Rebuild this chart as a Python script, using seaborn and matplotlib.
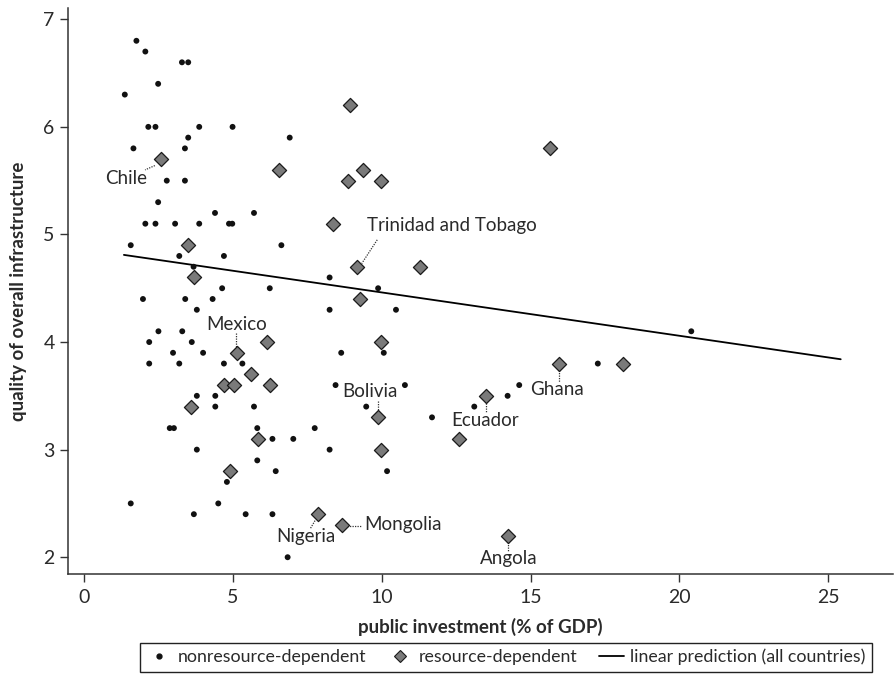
import matplotlib
matplotlib.use('Agg')
import matplotlib.pyplot as plt
from matplotlib.lines import Line2D
import numpy as np
import pandas as pd
import seaborn as sns

# nonresource-dependent countries
nonres_x = [1.76, 2.06, 3.29, 3.50, 2.49, 1.37,
            2.16, 2.40, 3.87, 4.99, 3.50, 6.91, 1.66, 3.39, 2.78, 3.39, 2.49,
            4.40, 5.71, 2.06, 2.40, 3.06, 3.87, 4.87, 4.98, 1.57, 6.63,
            3.20, 4.70, 3.68, 8.25, 4.64, 6.24, 9.88, 1.98, 3.40, 4.32,
            3.79, 8.25, 10.48, 2.50, 3.30, 20.40, 2.19, 3.62,
            2.99, 4.00, 8.64, 10.07, 2.19, 3.20, 4.70, 5.32, 17.26,
            8.45, 10.78, 14.62, 3.79, 4.41, 14.23, 4.41, 5.71, 9.48, 13.11,
            11.69, 2.88, 3.02, 5.82, 7.75, 6.33, 7.03, 3.79, 8.25, 5.82,
            6.44, 10.18, 4.80, 1.57, 4.51, 3.69, 5.43, 6.33, 6.84]
nonres_y = [6.8, 6.7, 6.6, 6.6, 6.4, 6.3,
            6.0, 6.0, 6.0, 6.0, 5.9, 5.9, 5.8, 5.8, 5.5, 5.5, 5.3,
            5.2, 5.2, 5.1, 5.1, 5.1, 5.1, 5.1, 5.1, 4.9, 4.9,
            4.8, 4.8, 4.7, 4.6, 4.5, 4.5, 4.5, 4.4, 4.4, 4.4,
            4.3, 4.3, 4.3, 4.1, 4.1, 4.1, 4.0, 4.0,
            3.9, 3.9, 3.9, 3.9, 3.8, 3.8, 3.8, 3.8, 3.8,
            3.6, 3.6, 3.6, 3.5, 3.5, 3.5, 3.4, 3.4, 3.4, 3.4,
            3.3, 3.2, 3.2, 3.2, 3.2, 3.1, 3.1, 3.0, 3.0, 2.9,
            2.8, 2.8, 2.7, 2.5, 2.5, 2.4, 2.4, 2.4, 2.0]

# resource-dependent countries
res_x = [2.59, 6.55, 8.95, 9.36, 8.87, 9.98, 8.36, 3.50, 3.71, 9.17, 11.29,
         9.27, 6.14, 9.98, 5.13, 5.61, 4.71, 5.04, 6.24, 3.60, 9.89, 5.83,
         9.98, 4.91, 7.86, 8.66, 13.50, 12.61, 15.64, 15.96, 18.10, 14.23]
res_y = [5.7, 5.6, 6.2, 5.6, 5.5, 5.5, 5.1, 4.9, 4.6, 4.7, 4.7,
         4.4, 4.0, 4.0, 3.9, 3.7, 3.6, 3.6, 3.6, 3.4, 3.3, 3.1,
         3.0, 2.8, 2.4, 2.3, 3.5, 3.1, 5.8, 3.8, 3.8, 2.2]

# linear prediction (all countries)
pred_x = [1.34, 25.42]
pred_y = [4.81, 3.84]

# labelled countries: name, text x, text y, alignment, leader start, leader end
labels = [
    ("Chile", 1.41, 5.52, 'center', (2.38, 5.64), (2.05, 5.60)),
    ("Mexico", 5.11, 4.16, 'center', (5.12, 4.08), (5.12, 3.94)),
    ("Trinidad and Tobago", 9.50, 5.08, 'left', (9.85, 4.95), (9.33, 4.73)),
    ("Bolivia", 9.61, 3.54, 'center', (9.89, 3.45), (9.89, 3.33)),
    ("Ecuador", 13.47, 3.27, 'center', (13.50, 3.43), (13.50, 3.34)),
    ("Ghana", 15.90, 3.56, 'center', (15.96, 3.74), (15.96, 3.63)),
    ("Angola", 14.26, 1.99, 'center', (14.23, 2.14), (14.23, 2.05)),
    ("Nigeria", 7.46, 2.19, 'center', (7.76, 2.34), (7.59, 2.26)),
    ("Mongolia", 9.41, 2.30, 'left', (8.82, 2.29), (9.29, 2.29)),
]

sns.set_theme(style='ticks')
plt.rcParams['font.family'] = ['Lato', 'DejaVu Sans']
txt = '#2a2a2a'

df_non = pd.DataFrame({'x': nonres_x, 'y': nonres_y})
df_res = pd.DataFrame({'x': res_x, 'y': res_y})
df_pred = pd.DataFrame({'x': pred_x, 'y': pred_y})

fig = plt.figure(figsize=(8.94, 6.91), dpi=100)
ax = fig.add_axes([0.076, 0.169, 0.923, 0.819])

sns.lineplot(data=df_pred, x='x', y='y', ax=ax, color='black', linewidth=1.3, zorder=2)
sns.scatterplot(data=df_non, x='x', y='y', ax=ax, marker='o', s=18, color='#111111',
                edgecolor='none', zorder=3)
sns.scatterplot(data=df_res, x='x', y='y', ax=ax, marker='D', s=52, color='#7a7a7a',
                edgecolor='#1a1a1a', linewidth=0.9, zorder=3)

for name, tx, ty, ha, p0, p1 in labels:
    ax.text(tx, ty, name, ha=ha, va='center', fontsize=13.5, color=txt)
    ax.plot([p0[0], p1[0]], [p0[1], p1[1]], linestyle=(0, (1, 1)), color='#333333', lw=0.9)

ax.set_xlim(-0.54, 27.18)
ax.set_ylim(1.842, 7.102)
ax.set_xticks([0, 5, 10, 15, 20, 25])
ax.set_yticks([2, 3, 4, 5, 6, 7])
ax.tick_params(axis='both', length=6, width=1, color='#333333', labelsize=14,
               labelcolor=txt, direction='out')
ax.tick_params(axis='x', pad=5)
for side in ['top', 'right']:
    ax.spines[side].set_visible(False)
for side in ['left', 'bottom']:
    ax.spines[side].set_linewidth(1.1)
    ax.spines[side].set_color('#333333')

ax.set_xlabel('public investment (% of GDP)', fontsize=13.5, fontweight='bold', color=txt,
              labelpad=8)
ax.set_ylabel('quality of overall infrastructure', fontsize=13.5, fontweight='bold', color=txt,
              labelpad=12)

handles = [
    Line2D([], [], marker='o', linestyle='none', markersize=3.5, color='#111111'),
    Line2D([], [], marker='D', linestyle='none', markersize=6.5, markerfacecolor='#7a7a7a',
           markeredgecolor='#1a1a1a', markeredgewidth=0.8),
    Line2D([], [], color='black', linewidth=1.3),
]
leg = fig.legend(handles, ['nonresource-dependent', 'resource-dependent',
                           'linear prediction (all countries)'],
                 loc='center', bbox_to_anchor=(0.566, 0.049), ncol=3, fontsize=12.8,
                 frameon=True, fancybox=False, edgecolor='#222222', framealpha=1,
                 handlelength=1.4, handletextpad=0.35, columnspacing=1.2,
                 borderpad=0.35)
leg.get_frame().set_linewidth(1.0)
for t in leg.get_texts():
    t.set_color(txt)

fig.savefig('out.png', dpi=100)
